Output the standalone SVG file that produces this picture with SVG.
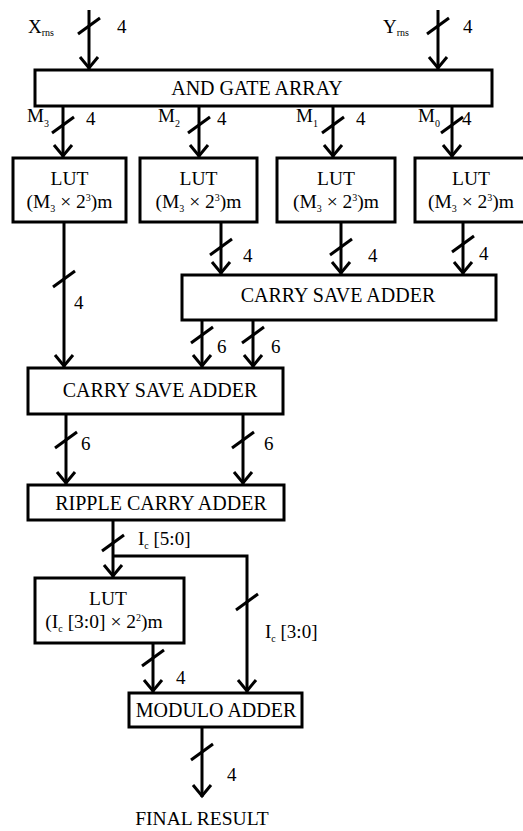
<svg xmlns="http://www.w3.org/2000/svg" width="523" height="831" viewBox="0 0 523 831" font-family="'Liberation Serif', 'DejaVu Serif', serif">
<style>
text{font-family:'Liberation Serif','DejaVu Serif',serif;fill:#000}
.box{fill:#fff;stroke:#000;stroke-width:3}
.t{font-size:20px;text-anchor:middle}
.l{font-size:19.5px;text-anchor:middle}
.n{font-size:19px}
.w{fill:none;stroke:#000;stroke-width:3}
.s{fill:none;stroke:#000;stroke-width:3}
</style>
<defs>
<marker id="ah" markerUnits="userSpaceOnUse" markerWidth="30" markerHeight="30" viewBox="-15 -15 30 30" refX="0" refY="0" orient="auto">
<path d="M-12,-9 L-1,0 L-12,9" fill="none" stroke="#000" stroke-width="3"/>
</marker>
<path id="sl" d="M-11,8 L11,-8"/>
</defs>
<g id="connectors">
<path class="w" d="M89,10 V69" marker-end="url(#ah)"/>
<path class="w" d="M438,10 V69" marker-end="url(#ah)"/>
<path class="w" d="M63,106 V157" marker-end="url(#ah)"/>
<path class="w" d="M199,106 V157" marker-end="url(#ah)"/>
<path class="w" d="M333,106 V157" marker-end="url(#ah)"/>
<path class="w" d="M452,106 V157" marker-end="url(#ah)"/>
<path class="w" d="M64,222 V367" marker-end="url(#ah)"/>
<path class="w" d="M221,222 V274" marker-end="url(#ah)"/>
<path class="w" d="M341,222 V274" marker-end="url(#ah)"/>
<path class="w" d="M463,222 V274" marker-end="url(#ah)"/>
<path class="w" d="M202,320 V367" marker-end="url(#ah)"/>
<path class="w" d="M253,320 V367" marker-end="url(#ah)"/>
<path class="w" d="M66,414 V484" marker-end="url(#ah)"/>
<path class="w" d="M243,414 V484" marker-end="url(#ah)"/>
<path class="w" d="M113,520 V577" marker-end="url(#ah)"/>
<path class="w" d="M113,556 H247 V692" marker-end="url(#ah)"/>
<path class="w" d="M153,643 V692" marker-end="url(#ah)"/>
<path class="w" d="M202,727 V797" marker-end="url(#ah)"/>
<g class="s">
<use href="#sl" x="89" y="26"/>
<use href="#sl" x="438" y="26"/>
<use href="#sl" x="63" y="125"/>
<use href="#sl" x="199" y="125"/>
<use href="#sl" x="333" y="125"/>
<use href="#sl" x="452" y="125"/>
<use href="#sl" x="64" y="279"/>
<use href="#sl" x="221" y="247"/>
<use href="#sl" x="341" y="247"/>
<use href="#sl" x="463" y="244"/>
<use href="#sl" x="202" y="335"/>
<use href="#sl" x="253" y="335"/>
<use href="#sl" x="66" y="440"/>
<use href="#sl" x="243" y="440"/>
<use href="#sl" x="113" y="543"/>
<use href="#sl" x="247" y="602"/>
<use href="#sl" x="153" y="658"/>
<use href="#sl" x="202" y="752"/>
</g>
<g id="labels">
<text class="n" x="28" y="33">X<tspan font-size="10" dy="3">rns</tspan></text>
<text class="n" x="117" y="33">4</text>
<text class="n" x="383" y="33">Y<tspan font-size="10" dy="3">rns</tspan></text>
<text class="n" x="463" y="33">4</text>
<text class="n" x="27" y="122">M<tspan font-size="10" dy="5">3</tspan></text>
<text class="n" x="86" y="125">4</text>
<text class="n" x="158" y="122">M<tspan font-size="10" dy="5">2</tspan></text>
<text class="n" x="217" y="125">4</text>
<text class="n" x="296" y="122">M<tspan font-size="10" dy="5">1</tspan></text>
<text class="n" x="356" y="125">4</text>
<text class="n" x="418" y="122">M<tspan font-size="10" dy="5">0</tspan></text>
<text class="n" x="462" y="125">4</text>
<text class="n" x="74" y="309">4</text>
<text class="n" x="243" y="262">4</text>
<text class="n" x="368" y="262">4</text>
<text class="n" x="479" y="260">4</text>
<text class="n" x="217" y="353">6</text>
<text class="n" x="271" y="353">6</text>
<text class="n" x="81" y="450">6</text>
<text class="n" x="264" y="450">6</text>
<text class="n" x="138" y="545">I<tspan font-size="10" dy="4">c</tspan><tspan dy="-4"> [5:0]</tspan></text>
<text class="n" x="265" y="638">I<tspan font-size="10" dy="4">c</tspan><tspan dy="-4"> [3:0]</tspan></text>
<text class="n" x="176" y="684">4</text>
<text class="n" x="227" y="781">4</text>
<text class="l" x="202" y="825">FINAL RESULT</text>
</g>
</g>
<g id="and-gate-array">
<rect class="box" x="35" y="70" width="457" height="36"/>
<text class="t" x="257" y="95">AND GATE ARRAY</text>
</g>
<g id="lut-1">
<rect class="box" x="13" y="158" width="113" height="64"/>
<text class="l" x="69.5" y="185">LUT</text>
<text class="l" x="69.5" y="208">(M<tspan font-size="10" dy="4">3</tspan><tspan dy="-4"> × 2</tspan><tspan font-size="10" dy="-7">3</tspan><tspan dy="7">)m</tspan></text>
</g>
<g id="lut-2">
<rect class="box" x="140" y="158" width="117" height="64"/>
<text class="l" x="198.5" y="185">LUT</text>
<text class="l" x="198.5" y="208">(M<tspan font-size="10" dy="4">3</tspan><tspan dy="-4"> × 2</tspan><tspan font-size="10" dy="-7">3</tspan><tspan dy="7">)m</tspan></text>
</g>
<g id="lut-3">
<rect class="box" x="277" y="158" width="118" height="64"/>
<text class="l" x="336" y="185">LUT</text>
<text class="l" x="336" y="208">(M<tspan font-size="10" dy="4">3</tspan><tspan dy="-4"> × 2</tspan><tspan font-size="10" dy="-7">3</tspan><tspan dy="7">)m</tspan></text>
</g>
<g id="lut-4">
<rect class="box" x="415" y="158" width="115" height="64"/>
<text class="l" x="471" y="185">LUT</text>
<text class="l" x="471" y="208">(M<tspan font-size="10" dy="4">3</tspan><tspan dy="-4"> × 2</tspan><tspan font-size="10" dy="-7">3</tspan><tspan dy="7">)m</tspan></text>
</g>
<g id="csa-1">
<rect class="box" x="182" y="275" width="314" height="45"/>
<text class="t" x="338" y="302">CARRY SAVE ADDER</text>
</g>
<g id="csa-2">
<rect class="box" x="28" y="368" width="255" height="46"/>
<text class="t" x="160" y="397">CARRY SAVE ADDER</text>
</g>
<g id="rca">
<rect class="box" x="28" y="485" width="256" height="35"/>
<text class="t" x="161" y="510">RIPPLE CARRY ADDER</text>
</g>
<g id="lut-5">
<rect class="box" x="35" y="578" width="149" height="65"/>
<text class="l" x="108" y="605">LUT</text>
<text class="l" x="104" y="628">(I<tspan font-size="10" dy="4">c</tspan><tspan dy="-4"> [3:0] × 2</tspan><tspan font-size="10" dy="-7">2</tspan><tspan dy="7">)m</tspan></text>
</g>
<g id="modulo-adder">
<rect class="box" x="129" y="693" width="173" height="34"/>
<text class="t" x="216" y="717">MODULO ADDER</text>
</g>
</svg>
